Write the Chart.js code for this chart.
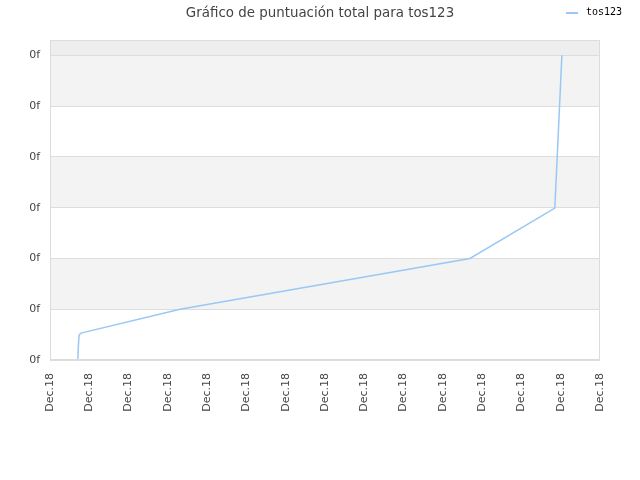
<!DOCTYPE html>
<html>
<head>
<meta charset="utf-8">
<script src="https://cdn.jsdelivr.net/npm/chart.js@4"></script>
<style>
    html, body { margin: 0; padding: 0; background: #fff; }
    #wrap { width: 640px; height: 480px; }
</style>
</head>
<body>
<div id="wrap"><canvas id="scoreChart"></canvas></div>
<script>
// Chart data
const seriesName = 'tos123';
const tickLabels = ['Dec.18', 'Dec.18', 'Dec.18', 'Dec.18', 'Dec.18', 'Dec.18', 'Dec.18', 'Dec.18',
    'Dec.18', 'Dec.18', 'Dec.18', 'Dec.18', 'Dec.18', 'Dec.18', 'Dec.18'];
const yTickLabel = '0f';
const xValues = [0.71, 0.72, 0.74, 0.79, 3.31, 10.69, 12.85, 13.03];
const yValues = [0, 0.25, 0.49, 0.53, 1.0, 2.0, 2.99, 6.0];

const lineColor = '#99c8f5';

// Alternating bands and frame behind the plot
const bandsPlugin = {
    id: 'bands',
    beforeDraw(chart) {
        const { ctx, chartArea: area, scales } = chart;
        const y = scales.y;
        ctx.save();
        const top = y.getPixelForValue(y.max);
        const lastTick = y.getPixelForValue(6);
        ctx.fillStyle = '#eeeeee';
        ctx.fillRect(area.left, top, area.right - area.left, lastTick - top);
        for (let v = 0; v < 6; v++) {
            if (v % 2 === 1) {
                const p1 = y.getPixelForValue(v + 1);
                const p0 = y.getPixelForValue(v);
                ctx.fillStyle = '#f3f3f3';
                ctx.fillRect(area.left, p1, area.right - area.left, p0 - p1);
            }
        }
        ctx.restore();
    },
    afterDatasetsDraw(chart) {
        const { ctx, chartArea: area } = chart;
        ctx.save();
        ctx.strokeStyle = '#dcdcdc';
        ctx.lineWidth = 1;
        ctx.strokeRect(area.left + 0.5, area.top + 0.5, area.right - area.left - 1, area.bottom - area.top - 1);
        ctx.restore();
    }
};

// Small legend in the top right corner
const cornerLegend = {
    id: 'cornerLegend',
    afterDraw(chart) {
        const { ctx } = chart;
        const ds = chart.data.datasets[0];
        ctx.save();
        ctx.fillStyle = ds.borderColor;
        ctx.fillRect(566, 12, 12, 2);
        ctx.fillStyle = '#000';
        ctx.font = '10px "DejaVu Sans Mono"';
        ctx.textBaseline = 'middle';
        ctx.fillText(ds.label, 586, 12.5);
        ctx.restore();
    }
};

const ctx = document.getElementById('scoreChart');
new Chart(ctx, {
    type: 'line',
    data: {
        datasets: [{
            label: seriesName,
            data: xValues.map((x, i) => ({ x: x, y: yValues[i] })),
            borderColor: lineColor,
            backgroundColor: lineColor,
            borderWidth: 1.5,
            pointRadius: 0,
            tension: 0,
            fill: false
        }]
    },
    options: {
        responsive: true,
        maintainAspectRatio: false,
        animation: false,
        layout: { padding: 0 },
        plugins: {
            legend: { display: false },
            tooltip: { enabled: false },
            title: {
                display: true,
                text: 'Gráfico de puntuación total para tos123',
                color: '#444',
                font: { family: 'DejaVu Sans', size: 13.4, weight: 'normal' },
                padding: { top: 5, bottom: 19 }
            }
        },
        scales: {
            x: {
                type: 'linear',
                min: 0,
                max: 14,
                grid: { display: false },
                border: { display: false },
                afterBuildTicks: s => { s.ticks = s.ticks.filter(t => Number.isInteger(t.value)); },
                afterFit: s => { s.height = 120; },
                ticks: {
                    stepSize: 1,
                    autoSkip: false,
                    minRotation: 90,
                    maxRotation: 90,
                    padding: 5,
                    color: '#444',
                    font: { family: 'DejaVu Sans', size: 11 },
                    callback: (v) => tickLabels[v]
                }
            },
            y: {
                min: 0,
                max: 6.3,
                grid: { color: '#dddddd', drawTicks: false },
                border: { display: false },
                afterBuildTicks: s => { s.ticks = s.ticks.filter(t => Number.isInteger(t.value)); },
                afterFit: s => { s.width = 50; },
                ticks: {
                    stepSize: 1,
                    padding: 10,
                    color: '#444',
                    font: { family: 'DejaVu Sans', size: 11 },
                    callback: () => yTickLabel
                }
            },
            // empty right margin
            yRight: {
                position: 'right',
                min: 0,
                max: 1,
                grid: { display: false },
                border: { display: false },
                ticks: { display: false },
                afterFit: s => { s.width = 40; }
            }
        }
    },
    plugins: [bandsPlugin, cornerLegend]
});
</script>
</body>
</html>
